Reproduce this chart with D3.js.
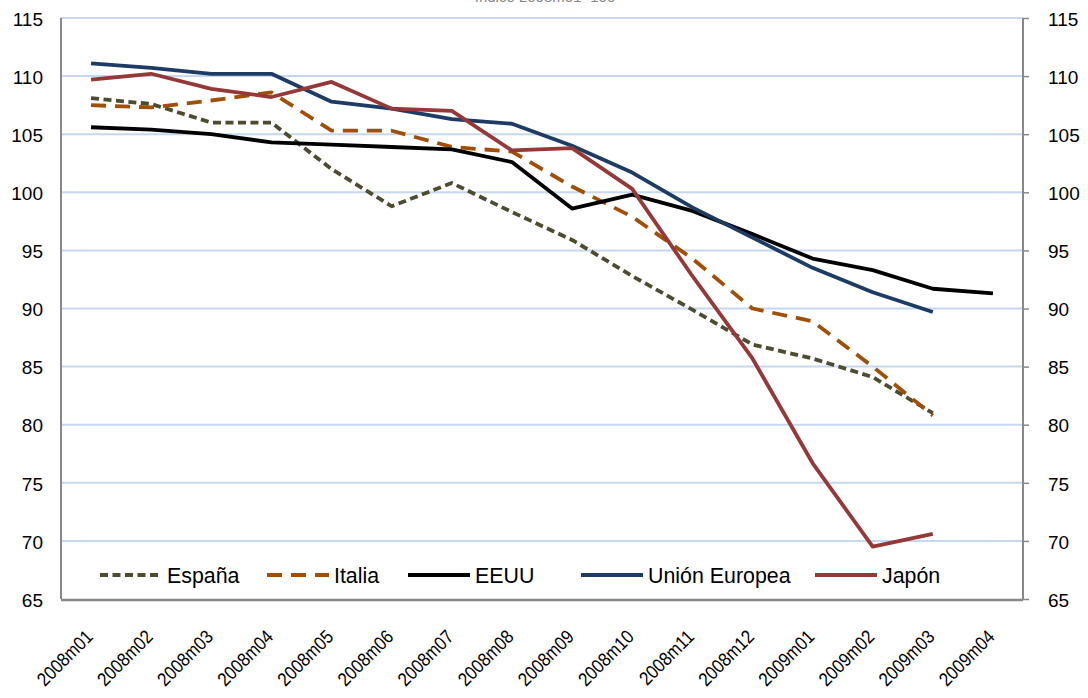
<!DOCTYPE html>
<html><head><meta charset="utf-8">
<script src="https://cdn.jsdelivr.net/npm/d3@7"></script>
<style>body{margin:0;background:#fff}svg{display:block}text{font-family:"Liberation Sans Narrow","Arial Narrow","Liberation Sans",Arial,sans-serif}</style>
</head><body><svg id="c" width="1088" height="698"></svg>
<script>
const categories=["2008m01","2008m02","2008m03","2008m04","2008m05","2008m06","2008m07","2008m08","2008m09","2008m10","2008m11","2008m12","2009m01","2009m02","2009m03","2009m04"];
const espana=[108.1,107.6,106.0,106.0,102.0,98.8,100.8,98.3,95.9,92.8,89.9,86.9,85.7,84.1,81.0,null];
const italia=[107.5,107.3,107.9,108.6,105.3,105.3,103.9,103.5,100.5,97.9,94.3,90.0,88.9,85.0,80.8,null];
const eeuu=[105.6,105.4,105.0,104.3,104.1,103.9,103.7,102.6,98.6,99.8,98.4,96.4,94.3,93.3,91.7,91.3];
const ue=[111.1,110.7,110.2,110.2,107.8,107.2,106.3,105.9,104.0,101.7,98.7,96.1,93.5,91.4,89.7,null];
const japon=[109.7,110.2,108.9,108.2,109.5,107.2,107.0,103.6,103.8,100.3,92.8,85.7,76.7,69.5,70.6,null];
const yTicks=[65,70,75,80,85,90,95,100,105,110,115];
const seriesNames=["España","Italia","EEUU","Unión Europea","Japón"];
const seriesData=[espana,italia,eeuu,ue,japon];
const styles=[
 {color:"#4d4b30",dash:"8,4.5"},
 {color:"#a14f08",dash:"15,9"},
 {color:"#000000",dash:null},
 {color:"#1d3b64",dash:null},
 {color:"#953838",dash:null}
];
const svg=d3.select("#c");
const L=61,R=1023,T=18,B=599;
const x=d3.scaleBand().domain(categories).range([L,R]);
const y=d3.scaleLinear().domain([65,115]).range([B,T]);
const cx=d=>x(d)+x.bandwidth()/2;
// title (clipped at the top edge, as in the reference)
svg.append("text").attr("x",545).attr("y",2).attr("text-anchor","middle").attr("fill","#888").attr("font-size",15).text("Índice 2008m01=100");
// gridlines
svg.append("g").selectAll("line").data(yTicks.filter(v=>v>65)).join("line")
 .attr("x1",L).attr("x2",R).attr("y1",d=>y(d)).attr("y2",d=>y(d)).attr("stroke","#c5d8f0").attr("stroke-width",2);
// left axis labels
const ga=svg.append("g").attr("transform",`translate(${L},0)`).call(d3.axisLeft(y).tickValues(yTicks).tickSize(0).tickPadding(18).tickFormat(d3.format("d")));
ga.select(".domain").remove();
ga.selectAll("text").attr("font-size",19).attr("fill","#000").attr("font-family",null).attr("dy","0.38em");
const gr=svg.append("g").attr("transform",`translate(${R},0)`).call(d3.axisRight(y).tickValues(yTicks).tickSize(6).tickPadding(19).tickFormat(d3.format("d")));
gr.select(".domain").remove();
gr.selectAll("line").attr("stroke","#888").attr("stroke-width",1.5);
gr.selectAll("text").attr("font-size",19).attr("fill","#000").attr("font-family",null).attr("dy","0.38em");
// axis lines
svg.append("line").attr("x1",L).attr("x2",L).attr("y1",T).attr("y2",B).attr("stroke","#888").attr("stroke-width",2);
svg.append("line").attr("x1",R).attr("x2",R).attr("y1",T).attr("y2",B).attr("stroke","#888").attr("stroke-width",2);
svg.append("line").attr("x1",L).attr("x2",R).attr("y1",B+1).attr("y2",B+1).attr("stroke","#888").attr("stroke-width",2.5);
// x labels
svg.append("g").selectAll("text").data(categories).join("text")
 .attr("transform",d=>`translate(${cx(d)+3},${B+39}) rotate(-45) scale(0.88,1)`)
 .attr("text-anchor","end").attr("font-size",19).attr("fill","#000").text(d=>d);
// lines
const line=d3.line().defined(d=>d[1]!=null).x(d=>cx(d[0])).y(d=>y(d[1]));
seriesData.forEach((s,i)=>{
 svg.append("path").datum(categories.map((c,j)=>[c,s[j]])).attr("d",line)
  .attr("fill","none").attr("stroke",styles[i].color).attr("stroke-width",3.8)
  .attr("stroke-dasharray",styles[i].dash).attr("stroke-linejoin","round");
});
// legend
const legX=[100,267,408,581,815];
const lg=svg.append("g");
seriesNames.forEach((n,i)=>{
 lg.append("line").attr("x1",legX[i]).attr("x2",legX[i]+62).attr("y1",575).attr("y2",575)
  .attr("stroke",styles[i].color).attr("stroke-width",3.8).attr("stroke-dasharray",styles[i].dash);
 lg.append("text").attr("transform",`translate(${legX[i]+67},583) scale(0.93,1)`).attr("font-size",23).attr("fill","#000").text(n);
});
</script></body></html>
